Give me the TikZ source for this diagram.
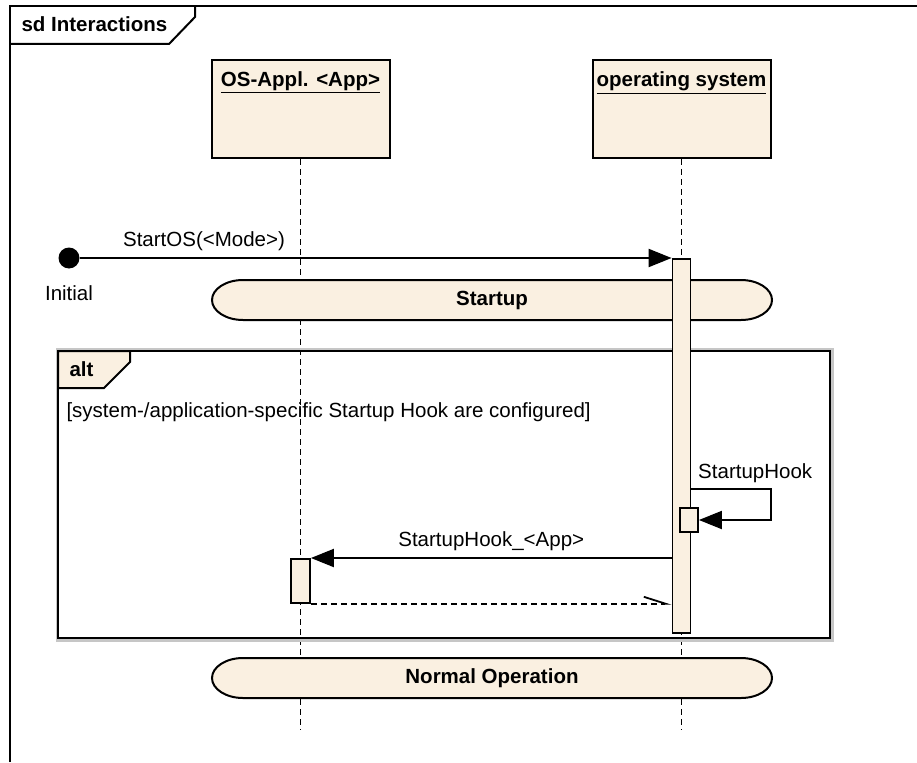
\documentclass[tikz,border=0pt]{standalone}
\usepackage{fontspec}
\setmainfont{Liberation Sans}
\usetikzlibrary{arrows.meta,positioning}
\definecolor{umlbeige}{HTML}{FAF0E1}
\tikzstyle{lifebox} = [rectangle, draw=black, fill=umlbeige, line width=2pt, minimum width=178pt, minimum height=98pt]
\tikzstyle{actbar} = [rectangle, draw=black, fill=umlbeige, line width=1.8pt, minimum width=18pt, inner sep=0pt]
\tikzstyle{lifeline} = [line width=1.8pt, dash pattern=on 6pt off 4pt]
\tikzstyle{state} = [draw=black, fill=umlbeige, line width=2pt]
\tikzstyle{msg} = [line width=2pt, -{Triangle[length=23pt,width=18pt]}]
\tikzstyle{reply} = [line width=1.8pt, dash pattern=on 6pt off 4pt, -{Straight Barb[harpoon,length=22pt,width=14pt,line width=1.8pt]}]

\begin{document}
\begin{tikzpicture}[x=1pt, y=-1pt, font=\fontsize{20.5}{24}\selectfont]
            \useasboundingbox (0,0) rectangle (917,762);

            % Draw Frame
            \draw[line width=2pt] (10,762) -- (10,6) -- (917,6);
            \draw[line width=2pt] (195,6) -- (195,17) -- (169,44) -- (10,44);
            \node(sd) [anchor=base west] at (18,32) {\bfseries sd Interactions};

            % Draw Lifelines
            \node(app) [lifebox] at (300.5,109) {};
            \node(os) [lifebox, right=201pt of app] {};
            \node(apptitle) [anchor=base] at ([yshift=-28pt]app.north) {\bfseries\underline{OS-Appl. <App>}};
            \node(ostitle) [anchor=base] at ([yshift=-28pt]os.north) {\bfseries\underline{operating system}};
            \coordinate (app-end) at (app.south |- 0,730);
            \coordinate (os-end) at (os.south |- 0,730);
            \draw[lifeline] (app.south) -- (app-end);
            \draw[lifeline] (os.south) -- (os-end);

            % Draw Alt Fragment
            \draw[gray!45, line width=3pt] (57,349) rectangle (832,640);
            \draw[line width=2pt] (58,351) rectangle (830,638);
            \draw[line width=2pt, fill=umlbeige] (58,351) -- (130,351) -- (130,362) -- (104,388) -- (58,388) -- cycle;
            \node(alt) [anchor=base west] at (66,376) {\bfseries alt};
            \node(guard) [anchor=base west] at (63,417) {[system-/application-specific Startup Hook are configured]};

            % Draw States
            \draw[state] (243,280) -- (741,280) arc[start angle=-90, end angle=90, x radius=31, y radius=20]
                -- (243,320) arc[start angle=90, end angle=270, x radius=31, y radius=20] -- cycle;
            \node(startup) at (492,300) {\bfseries Startup};
            \draw[state] (243,658) -- (741,658) arc[start angle=-90, end angle=90, x radius=31, y radius=20]
                -- (243,698) arc[start angle=90, end angle=270, x radius=31, y radius=20] -- cycle;
            \node(normal) at (492,678) {\bfseries Normal Operation};

            % Draw Activations
            \node(osact) [actbar, minimum height=374pt, anchor=north] at (os.south |- 0,258) {};
            \node(hookact) [actbar, minimum height=24pt] at (689,520) {};
            \node(appact) [actbar, minimum width=19pt, minimum height=44pt, anchor=north] at (app.south |- 0,558) {};

            % Draw Initial
            \node(init) [circle, fill=black, minimum size=21pt, inner sep=0pt] at (69,258) {};
            \node(initlabel) [below=13pt of init] {Initial};

            % Draw Arrows
            \draw[msg] (init) -- (osact.north west) node[pos=0.21, above=3pt] {StartOS(<Mode>)};
            \coordinate (hook-start) at (osact.east |- 0,489);
            \coordinate (hook-turn) at (771,489);
            \draw[msg] (hook-start) -- node[above=2pt, xshift=24pt] {StartupHook} (hook-turn) |- (hookact.east);
            \draw[msg] (osact.west |- appact.north) -- node[above=3pt] {StartupHook\_<App>} (appact.north east);
            \draw[reply] (appact.south east) -- (osact.west |- appact.south);
        \end{tikzpicture}
\end{document}
